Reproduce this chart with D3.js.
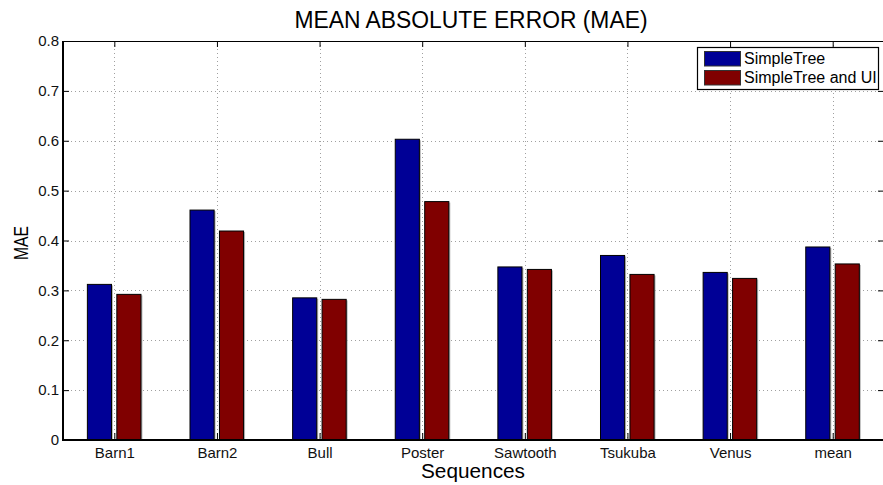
<!DOCTYPE html>
<html>
<head>
<meta charset="utf-8">
<script src="https://cdn.jsdelivr.net/npm/d3@7"></script>
<style>
  body { margin: 0; background: #fff; }
  svg { display: block; font-family: "Liberation Sans", Arial, Helvetica, sans-serif; }
</style>
</head>
<body>
<svg id="chart" width="883" height="485"></svg>
<script>
// Sequences and per-method mean absolute error
const categories = ["Barn1", "Barn2", "Bull", "Poster", "Sawtooth", "Tsukuba", "Venus", "mean"];
const simpleTree = [0.312, 0.461, 0.285, 0.603, 0.347, 0.370, 0.336, 0.387];
const simpleTreeUI = [0.292, 0.419, 0.282, 0.478, 0.342, 0.332, 0.324, 0.353];
const seriesNames = ["SimpleTree", "SimpleTree and UI"];
const seriesColors = ["#000096", "#800000"];
const yTicks = [0, 0.1, 0.2, 0.3, 0.4, 0.5, 0.6, 0.7, 0.8];

const series = [simpleTree, simpleTreeUI];
const FONT = "Liberation Sans, Arial, sans-serif";

const svg = d3.select("#chart");
const plotL = 63, plotR = 884, plotT = 41, plotB = 440;

const x = d3.scaleLinear().domain([0.5, categories.length + 0.5]).range([plotL, plotR]);
const y = d3.scaleLinear().domain([0, 0.8]).range([plotB, plotT]);
const step = x(2) - x(1);
const barW = step * 0.235;
const offsets = [-0.145, 0.142];

// dotted grid
const grid = svg.append("g").attr("stroke", "#a0a0a0").attr("stroke-width", 1)
  .attr("stroke-dasharray", "1,3");
grid.selectAll("line.h").data(yTicks.slice(1, -1)).join("line")
  .attr("x1", plotL).attr("x2", plotR)
  .attr("y1", d => Math.round(y(d)) + 0.5).attr("y2", d => Math.round(y(d)) + 0.5);
grid.selectAll("line.v").data(categories).join("line")
  .attr("x1", (d, i) => Math.round(x(i + 1)) + 0.5).attr("x2", (d, i) => Math.round(x(i + 1)) + 0.5)
  .attr("y1", plotT).attr("y2", plotB);

// bars
series.forEach((vals, s) => {
  const g = svg.append("g");
  // faint shadow on the right side
  g.selectAll("rect.sh").data(vals).join("rect")
    .attr("x", (d, i) => x(i + 1) + offsets[s] * step - barW / 2 + 1.5)
    .attr("y", d => y(d) + 1)
    .attr("width", barW)
    .attr("height", d => plotB - y(d) - 1)
    .attr("fill", "#b8b8b8");
  g.selectAll("rect.bar").data(vals).join("rect")
    .attr("x", (d, i) => x(i + 1) + offsets[s] * step - barW / 2)
    .attr("y", d => y(d))
    .attr("width", barW)
    .attr("height", d => plotB - y(d))
    .attr("fill", seriesColors[s])
    .attr("stroke", "#000")
    .attr("stroke-width", 1);
});

// axes frame
const frame = svg.append("g").attr("stroke", "#000").attr("fill", "none");
frame.append("line").attr("x1", plotL).attr("x2", plotR).attr("y1", plotT + 0.5).attr("y2", plotT + 0.5).attr("stroke-width", 1);
frame.append("line").attr("x1", plotL).attr("x2", plotR).attr("y1", plotB).attr("y2", plotB).attr("stroke-width", 2);
frame.append("line").attr("x1", plotL).attr("x2", plotL).attr("y1", plotT).attr("y2", plotB + 1).attr("stroke-width", 2);
frame.append("line").attr("x1", plotR).attr("x2", plotR).attr("y1", plotT).attr("y2", plotB).attr("stroke-width", 1);

// inward ticks via d3 axes
const yAxisL = d3.axisLeft(y).tickValues(yTicks).tickSize(-6).tickPadding(4)
  .tickFormat(d => d === 0 ? "0" : d3.format(".1f")(d));
const gL = svg.append("g").attr("transform", `translate(${plotL},0)`).call(yAxisL);
gL.select(".domain").remove();
gL.selectAll("text").attr("font-size", 15).attr("fill", "#111").attr("font-family", FONT);

const yAxisR = d3.axisRight(y).tickValues(yTicks).tickSize(-5).tickFormat("");
const gR = svg.append("g").attr("transform", `translate(${plotR - 1},0)`).call(yAxisR);
gR.select(".domain").remove();

const xAxisB = d3.axisBottom(x).tickValues(d3.range(1, categories.length + 1))
  .tickSize(-7).tickPadding(7).tickFormat(d => categories[d - 1]);
const gB = svg.append("g").attr("transform", `translate(0,${plotB})`).call(xAxisB);
gB.select(".domain").remove();
gB.selectAll("text").attr("font-size", 15).attr("fill", "#111").attr("font-family", FONT);

const xAxisT = d3.axisTop(x).tickValues(d3.range(1, categories.length + 1)).tickSize(-6).tickFormat("");
const gT = svg.append("g").attr("transform", `translate(0,${plotT})`).call(xAxisT);
gT.select(".domain").remove();

// title and axis labels
svg.append("text").attr("x", 471).attr("y", 27.5)
  .attr("text-anchor", "middle").attr("font-size", 23.5).attr("fill", "#000")
  .attr("textLength", 353).attr("lengthAdjust", "spacingAndGlyphs")
  .text("MEAN ABSOLUTE ERROR (MAE)");
svg.append("text").attr("x", 473).attr("y", 478)
  .attr("text-anchor", "middle").attr("font-size", 20).attr("fill", "#000")
  .attr("textLength", 104).attr("lengthAdjust", "spacingAndGlyphs")
  .text("Sequences");
svg.append("text").attr("transform", "translate(28,243) rotate(-90)")
  .attr("text-anchor", "middle").attr("font-size", 20).attr("fill", "#000")
  .attr("textLength", 34).attr("lengthAdjust", "spacingAndGlyphs")
  .text("MAE");

// legend
const lg = svg.append("g");
lg.append("rect").attr("x", 697.5).attr("y", 47.5).attr("width", 181).attr("height", 42)
  .attr("fill", "#fff").attr("stroke", "#000").attr("stroke-width", 1.2);
seriesNames.forEach((name, i) => {
  const yy = 51 + i * 19;
  lg.append("rect").attr("x", 704.5).attr("y", yy + 0.5).attr("width", 36).attr("height", 14.5)
    .attr("fill", seriesColors[i]).attr("stroke", "#333").attr("stroke-width", 1);
  lg.append("text").attr("x", 744).attr("y", yy + 13).attr("font-size", 16).attr("fill", "#000")
    .text(name);
});
</script>
</body>
</html>
